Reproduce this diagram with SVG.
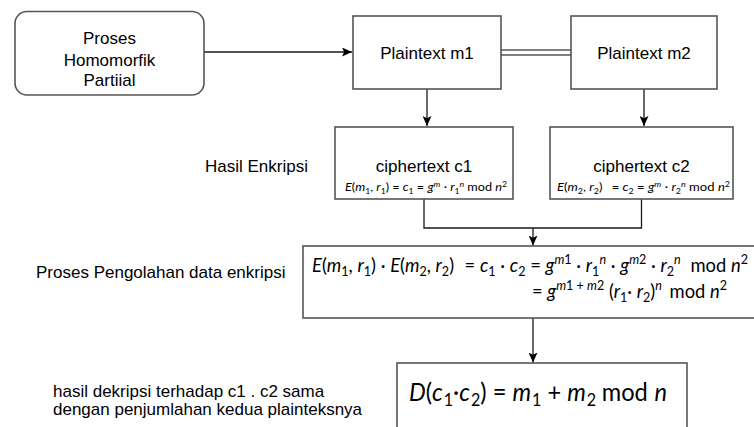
<svg xmlns="http://www.w3.org/2000/svg" width="754" height="427" viewBox="0 0 754 427">
  <style>
    .box { fill: #ffffff; stroke: #555555; stroke-width: 1.6; }
    .edge { fill: none; stroke: #1a1a1a; stroke-width: 1.3; }
    .link { fill: none; stroke: #555555; stroke-width: 1.4; }
    .lbl { font-family: "Liberation Sans", Arial, sans-serif; font-size: 17px; fill: #000000; }
    .mid { text-anchor: middle; }
    .m { font-family: Lato, "Liberation Sans", sans-serif; fill: #000000; }
    .i { font-style: italic; }
  </style>
  <defs>
    <marker id="arrow" viewBox="0 0 10 9" refX="10" refY="4.5" markerWidth="10" markerHeight="9" markerUnits="userSpaceOnUse" orient="auto">
      <path d="M0,0 L10,4.5 L0,9 L2.2,4.5 Z" fill="#000000"/>
    </marker>
  </defs>

  <!-- connectors -->
  <g id="connectors">
    <path class="edge" d="M204,52 H352" marker-end="url(#arrow)"/>
    <path class="link" d="M501,50 H571"/>
    <path class="link" d="M501,55 H571"/>
    <path class="edge" d="M427,89 V126" marker-end="url(#arrow)"/>
    <path class="edge" d="M644,89 V126" marker-end="url(#arrow)"/>
    <path class="edge" d="M424,199 V228 H641.5 V199"/>
    <path class="edge" d="M533,228 V245.5" marker-end="url(#arrow)"/>
    <path class="edge" d="M533,318 V362.5" marker-end="url(#arrow)"/>
  </g>

  <!-- start node -->
  <g id="proses-homomorfik">
    <rect class="box" x="15" y="11.5" width="189" height="83.5" rx="12" ry="12"/>
    <text class="lbl mid" x="109.5" y="44">Proses</text>
    <text class="lbl mid" x="109.5" y="65.5">Homomorfik</text>
    <text class="lbl mid" x="109.5" y="86">Partiial</text>
  </g>

  <g id="plaintext-m1">
    <rect class="box" x="353" y="16" width="148" height="73"/>
    <text class="lbl mid" x="427" y="58.5">Plaintext m1</text>
  </g>

  <g id="plaintext-m2">
    <rect class="box" x="571" y="16" width="146" height="73"/>
    <text class="lbl mid" x="644" y="58.5">Plaintext m2</text>
  </g>

  <g id="label-hasil-enkripsi">
    <text class="lbl" x="205" y="172">Hasil Enkripsi</text>
  </g>

  <g id="ciphertext-c1">
    <rect class="box" x="335" y="127" width="178" height="72"/>
    <text class="lbl mid" x="424" y="172">ciphertext c1</text>
    <text class="m" x="345" y="191" font-size="11" textLength="162" lengthAdjust="spacingAndGlyphs"><tspan class="i">E</tspan>(<tspan class="i">m</tspan><tspan font-size="7.5" dy="2.5">1</tspan><tspan dy="-2.5">, </tspan><tspan class="i">r</tspan><tspan font-size="7.5" dy="2.5">1</tspan><tspan dy="-2.5">) = </tspan><tspan class="i">c</tspan><tspan font-size="7.5" dy="2.5">1</tspan><tspan dy="-2.5"> = </tspan><tspan class="i">g</tspan><tspan class="i" font-size="7.5" dy="-4.5">m</tspan><tspan dy="4.5"> · </tspan><tspan class="i">r</tspan><tspan font-size="7.5" dy="2.5">1</tspan><tspan class="i" font-size="7.5" dy="-7">n</tspan><tspan dy="4.5"> mod </tspan><tspan class="i">n</tspan><tspan font-size="7.5" dy="-4.5">2</tspan></text>
  </g>

  <g id="ciphertext-c2">
    <rect class="box" x="550" y="127" width="183" height="72"/>
    <text class="lbl mid" x="641.5" y="172">ciphertext c2</text>
    <text class="m" x="557" y="191" font-size="11" textLength="173" lengthAdjust="spacingAndGlyphs"><tspan class="i">E</tspan>(<tspan class="i">m</tspan><tspan font-size="7.5" dy="2.5">2</tspan><tspan dy="-2.5">, </tspan><tspan class="i">r</tspan><tspan font-size="7.5" dy="2.5">2</tspan><tspan dy="-2.5">)</tspan><tspan dx="5"> = </tspan><tspan class="i">c</tspan><tspan font-size="7.5" dy="2.5">2</tspan><tspan dy="-2.5"> = </tspan><tspan class="i">g</tspan><tspan class="i" font-size="7.5" dy="-4.5">m</tspan><tspan dy="4.5"> · </tspan><tspan class="i">r</tspan><tspan font-size="7.5" dy="2.5">2</tspan><tspan class="i" font-size="7.5" dy="-7">n</tspan><tspan dy="4.5"> mod </tspan><tspan class="i">n</tspan><tspan font-size="7.5" dy="-4.5">2</tspan></text>
  </g>

  <g id="label-pengolahan">
    <text class="lbl" x="36" y="278">Proses Pengolahan data enkripsi</text>
  </g>

  <g id="pengolahan-data">
    <rect class="box" x="303" y="246" width="460" height="72"/>
    <text class="m" x="312" y="272" font-size="19" textLength="436" lengthAdjust="spacingAndGlyphs"><tspan class="i">E</tspan>(<tspan class="i">m</tspan><tspan font-size="13" dy="4">1</tspan><tspan dy="-4">, </tspan><tspan class="i">r</tspan><tspan font-size="13" dy="4">1</tspan><tspan dy="-4">) · </tspan><tspan class="i">E</tspan>(<tspan class="i">m</tspan><tspan font-size="13" dy="4">2</tspan><tspan dy="-4">, </tspan><tspan class="i">r</tspan><tspan font-size="13" dy="4">2</tspan><tspan dy="-4">)</tspan><tspan dx="6"> = </tspan><tspan class="i">c</tspan><tspan font-size="13" dy="4">1</tspan><tspan dy="-4"> · </tspan><tspan class="i">c</tspan><tspan font-size="13" dy="4">2</tspan><tspan dy="-4"> = </tspan><tspan class="i">g</tspan><tspan font-size="13" dy="-8"><tspan class="i">m</tspan>1</tspan><tspan dy="8"> · </tspan><tspan class="i">r</tspan><tspan font-size="13" dy="4">1</tspan><tspan class="i" font-size="13" dy="-12">n</tspan><tspan dy="8"> · </tspan><tspan class="i">g</tspan><tspan font-size="13" dy="-8"><tspan class="i">m</tspan>2</tspan><tspan dy="8"> · </tspan><tspan class="i">r</tspan><tspan font-size="13" dy="4">2</tspan><tspan class="i" font-size="13" dy="-12">n</tspan><tspan dy="8" dx="10">mod </tspan><tspan class="i">n</tspan><tspan font-size="13" dy="-8">2</tspan></text>
    <text class="m" x="532" y="298" font-size="19" textLength="195" lengthAdjust="spacingAndGlyphs">= <tspan class="i">g</tspan><tspan font-size="13" dy="-8"><tspan class="i">m</tspan>1 + <tspan class="i">m</tspan>2</tspan><tspan dy="8"> (</tspan><tspan class="i">r</tspan><tspan font-size="13" dy="4">1</tspan><tspan dy="-4">· </tspan><tspan class="i">r</tspan><tspan font-size="13" dy="4">2</tspan><tspan dy="-4">)</tspan><tspan class="i" font-size="13" dy="-8">n</tspan><tspan dy="8" dx="8">mod </tspan><tspan class="i">n</tspan><tspan font-size="13" dy="-8">2</tspan></text>
  </g>

  <g id="label-dekripsi">
    <text class="lbl" x="53" y="396.5">hasil dekripsi terhadap c1 . c2 sama</text>
    <text class="lbl" x="53" y="415">dengan penjumlahan kedua plainteksnya</text>
  </g>

  <g id="hasil-dekripsi">
    <rect class="box" x="397" y="363" width="290" height="80"/>
    <text class="m" x="409" y="401" font-size="25" textLength="258" lengthAdjust="spacingAndGlyphs"><tspan class="i">D</tspan>(<tspan class="i">c</tspan><tspan font-size="17" dy="5" dx="1">1</tspan><tspan dy="-5">·</tspan><tspan class="i">c</tspan><tspan font-size="17" dy="5" dx="1">2</tspan><tspan dy="-5">) = </tspan><tspan class="i">m</tspan><tspan font-size="17" dy="5" dx="1">1</tspan><tspan dy="-5"> + </tspan><tspan class="i">m</tspan><tspan font-size="17" dy="5" dx="1">2</tspan><tspan dy="-5" dx="6">mod</tspan><tspan class="i" dx="7">n</tspan></text>
  </g>
</svg>
